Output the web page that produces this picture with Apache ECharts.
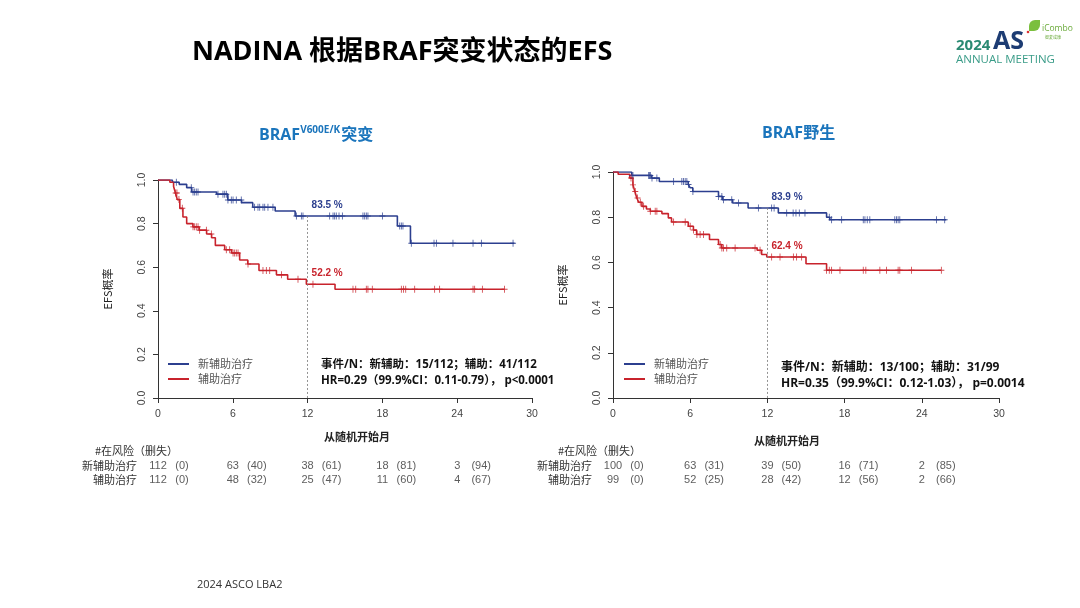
<!DOCTYPE html>
<html>
<head>
<meta charset="utf-8">
<script src="https://cdn.jsdelivr.net/npm/echarts@6/dist/echarts.min.js"></script>
<style>
html,body{margin:0;padding:0;background:#fff;}
#c{width:1080px;height:608px;}
</style>
</head>
<body>
<div id="c"></div>
<script>
// ---------- DATA ----------
const xTicks = [0, 6, 12, 18, 24, 30];
const yTicks = [0, 0.2, 0.4, 0.6, 0.8, 1.0];
const groupNames = ['新辅助治疗', '辅助治疗'];
const rowCats = ['辅助治疗', '新辅助治疗'];

// Left panel: BRAF V600E/K mutant — events [month, survival]
const leftNeoEvents = [[1.15,0.99],[1.7,0.98],[2.3,0.965],[2.7,0.945],[4.7,0.935],[5.6,0.908],[6.7,0.896],[7.6,0.875],[9.4,0.858],[11.0,0.835],[19.2,0.789],[20.25,0.71]];
const leftNeoEnd = 28.6;
const leftNeoCensor = [1.47,2.67,2.81,2.94,3.07,3.21,4.81,5.21,5.35,5.48,5.61,5.88,6.02,6.28,6.68,7.75,8.02,8.16,8.42,8.56,8.82,9.22,11.1,11.5,11.63,13.77,14.04,14.17,14.3,14.52,14.79,16.44,16.58,16.71,16.84,18.0,19.39,19.52,19.65,20.32,22.14,22.33,23.66,25.27,25.94,28.48];
const leftAdjEvents = [[0.95,0.99],[1.25,0.97],[1.4,0.94],[1.55,0.91],[1.75,0.87],[2.0,0.83],[2.3,0.80],[2.8,0.785],[3.3,0.77],[3.9,0.752],[4.3,0.735],[4.6,0.70],[5.35,0.68],[5.9,0.665],[6.55,0.633],[7.2,0.615],[8.1,0.585],[9.5,0.565],[10.4,0.545],[11.9,0.522],[14.2,0.499]];
const leftAdjEnd = 27.8;
const leftAdjCensor = [1.42,1.52,1.68,1.95,2.81,2.94,3.07,3.21,3.34,3.88,4.28,5.48,5.75,6.02,6.15,6.28,6.42,7.22,8.42,8.69,8.96,9.9,11.23,12.43,15.64,15.86,16.71,16.84,17.19,19.52,19.7,19.87,20.59,22.19,22.59,25.27,25.4,26.02,27.8];

// Right panel: BRAF wild type
const rightNeoEvents = [[1.45,0.985],[3.0,0.973],[3.6,0.958],[5.85,0.945],[6.0,0.93],[6.2,0.914],[8.2,0.892],[8.5,0.877],[9.3,0.863],[10.5,0.841],[12.85,0.819],[16.6,0.80],[16.85,0.789]];
const rightNeoEnd = 25.9;
const rightNeoCensor = [1.47,1.55,2.77,2.85,2.9,3.03,3.41,4.71,5.35,5.48,5.61,5.74,5.87,6.21,8.2,8.46,8.59,9.23,9.75,11.3,12.33,12.52,13.5,14.0,14.22,14.48,14.92,16.81,16.99,17.77,19.45,19.58,19.76,19.96,21.9,22.03,22.16,22.29,25.14,25.78];
const rightAdjEvents = [[0.4,0.99],[1.3,0.973],[1.55,0.943],[1.7,0.914],[1.85,0.885],[2.0,0.866],[2.25,0.848],[2.6,0.836],[2.9,0.826],[3.8,0.816],[4.3,0.797],[4.55,0.779],[5.85,0.76],[6.25,0.743],[6.5,0.724],[7.5,0.701],[8.2,0.679],[8.45,0.664],[11.2,0.654],[11.55,0.635],[11.95,0.624],[15.0,0.594],[16.6,0.565]];
const rightAdjEnd = 25.5;
const rightAdjCensor = [1.4,1.55,1.73,1.91,2.12,2.38,2.9,3.28,3.41,4.71,5.61,6.0,6.26,6.52,6.77,7.03,8.33,8.46,8.59,8.84,9.49,11.04,11.43,12.33,12.98,14.02,14.27,14.66,16.6,16.81,16.99,17.64,19.45,19.65,20.74,21.26,22.16,22.29,23.2,25.52];

// 12-month labels
const leftLabels12 = ['83.5 %', '52.2 %'];
const rightLabels12 = ['83.9 %', '62.4 %'];

// Numbers at risk (censored)
const riskTimes = [0, 6, 12, 18, 24];
const leftNeoRisk = [112, 63, 38, 18, 3];
const leftNeoCens = [0, 40, 61, 81, 94];
const leftAdjRisk = [112, 48, 25, 11, 4];
const leftAdjCens = [0, 32, 47, 60, 67];
const rightNeoRisk = [100, 63, 39, 16, 2];
const rightNeoCens = [0, 31, 50, 71, 85];
const rightAdjRisk = [99, 52, 28, 12, 2];
const rightAdjCens = [0, 25, 42, 56, 66];

// Stats text
const leftStats = ['事件/N：新辅助：15/112；辅助：41/112', 'HR=0.29（99.9%CI：0.11-0.79）， p<0.0001'];
const rightStats = ['事件/N：新辅助：13/100；辅助：31/99', 'HR=0.35（99.9%CI：0.12-1.03）， p=0.0014'];

// ---------- STYLE / BUILD ----------
const BLUE = '#2c3f8f';
const RED = '#c8232c';
const NUMFONT = '"Liberation Sans", Arial, sans-serif';
const CJK = '"Noto Sans CJK SC", sans-serif';
const MIX = '"Open Sans", "Noto Sans CJK SC", sans-serif';

function stepData(events, end) {
  const d = [[0, 1]];
  events.forEach(e => d.push([e[0], e[1]]));
  d.push([end, events[events.length - 1][1]]);
  return d;
}
function survAt(events, t) {
  let s = 1;
  for (const e of events) { if (e[0] <= t) s = e[1]; }
  return s;
}
function censorData(events, times) {
  return times.map(t => [t, survAt(events, t)]);
}
const plusPath = 'path://M-0.14,-1H0.14V-0.14H1V0.14H0.14V1H-0.14V0.14H-1V-0.14H-0.14Z';

function kmSeries(gi, events, end, censor, color, lab12, withLine) {
  const s12 = survAt(events, 12);
  const line = {
    type: 'line', xAxisIndex: gi, yAxisIndex: gi, step: 'end',
    data: stepData(events, end), showSymbol: false, symbol: 'none',
    lineStyle: { color: color, width: 1.6 }, z: 3, silent: true,
    markPoint: {
      symbol: 'circle', symbolSize: 0, silent: true,
      data: [{ coord: [12, s12] }],
      label: { show: true, formatter: lab12, position: [4, -11], align: 'left', verticalAlign: 'middle',
        color: color, fontSize: 10, fontWeight: 'bold', fontFamily: NUMFONT }
    }
  };
  if (withLine) {
    line.markLine = {
      silent: true, symbol: 'none', label: { show: false },
      lineStyle: { color: '#777', type: [2, 2], width: 0.8 },
      data: [[{ coord: [12, s12] }, { coord: [12, 0] }]]
    };
  }
  const cens = {
    type: 'scatter', xAxisIndex: gi, yAxisIndex: gi, data: censorData(events, censor),
    symbol: plusPath, symbolSize: [6, 7], itemStyle: { color: color, opacity: 0.85 }, z: 4, silent: true
  };
  return [line, cens];
}

function riskSeries(gi, risk, cens, cat) {
  const numData = riskTimes.map((t, i) => [t, cat, risk[i]]);
  const cData = riskTimes.map((t, i) => [t, cat, cens[i]]);
  const base = { type: 'scatter', xAxisIndex: gi, yAxisIndex: gi, symbolSize: 0, silent: true };
  return [
    Object.assign({}, base, { data: numData, label: { show: true, position: [0, 0], align: 'center', verticalAlign: 'middle',
      formatter: p => String(p.value[2]), fontSize: 11, color: '#333', fontFamily: NUMFONT } }),
    Object.assign({}, base, { data: cData, label: { show: true, position: [24, 0], align: 'center', verticalAlign: 'middle',
      formatter: p => '(' + p.value[2] + ')', fontSize: 11, color: '#333', fontFamily: NUMFONT } })
  ];
}

function kmX(gi, padding) {
  return {
    gridIndex: gi, type: 'value', min: 0, max: 30, interval: 6,
    axisLine: { show: true, onZero: false, lineStyle: { color: '#333', width: 1 } },
    axisTick: { show: true, length: 5, lineStyle: { color: '#333' } },
    axisLabel: { color: '#444', fontSize: 10.5, fontFamily: NUMFONT, margin: 11 },
    splitLine: { show: false },
    name: '从随机开始月', nameLocation: 'middle', nameGap: 33,
    nameTextStyle: { fontFamily: CJK, fontSize: 11, fontWeight: 'bold', color: '#222', padding: padding }
  };
}
function kmY(gi) {
  return {
    gridIndex: gi, type: 'value', min: 0, max: 1, interval: 0.2,
    axisLine: { show: true, lineStyle: { color: '#333', width: 1 } },
    axisTick: { show: true, length: 5, lineStyle: { color: '#333' } },
    axisLabel: { color: '#444', fontSize: 10.5, fontFamily: NUMFONT, rotate: 90, margin: 10, formatter: v => v.toFixed(1) },
    splitLine: { show: false },
    name: 'EFS概率', nameLocation: 'middle', nameGap: 45, nameRotate: 90,
    nameTextStyle: { fontFamily: CJK, fontSize: 11, color: '#222' }
  };
}
function riskX(gi) { return { gridIndex: gi, type: 'value', min: 0, max: 30, show: false }; }
function riskY(gi) {
  return { gridIndex: gi, type: 'category', data: rowCats,
    axisLine: { show: false }, axisTick: { show: false }, splitLine: { show: false },
    axisLabel: { show: true, interval: 0, hideOverlap: false, margin: 21, fontSize: 11, color: '#333', fontFamily: CJK } };
}

function legendGraphics(x, y) {
  const g = [];
  [BLUE, RED].forEach((c, i) => {
    g.push({ type: 'line', shape: { x1: x, y1: y + i * 15, x2: x + 21, y2: y + i * 15 }, style: { stroke: c, lineWidth: 2 } });
    g.push({ type: 'text', x: x + 30, y: y + i * 15, style: { text: groupNames[i], font: '11px ' + CJK, fill: '#555', verticalAlign: 'middle' } });
  });
  return g;
}
function statsGraphics(x, y, lines, size) {
  return lines.map((t, i) => ({ type: 'text', x: x, y: y + i * 16,
    style: { text: t, font: 'bold ' + size + 'px ' + MIX, fill: '#111', verticalAlign: 'middle' } }));
}

const chart = echarts.init(document.getElementById('c'), null, { renderer: 'canvas' });
const option = {
  backgroundColor: '#fff',
  animation: false,
  grid: [
    { left: 158, top: 180, width: 374, height: 218 },
    { left: 613, top: 172, width: 386, height: 226 },
    { left: 158, top: 459, width: 374, height: 28 },
    { left: 613, top: 459, width: 386, height: 28 }
  ],
  xAxis: [kmX(0, [0, 0, 0, 24]), kmX(1, [4, 38, 0, 0]), riskX(2), riskX(3)],
  yAxis: [kmY(0), kmY(1), riskY(2), riskY(3)],
  series: [].concat(
    kmSeries(0, leftNeoEvents, leftNeoEnd, leftNeoCensor, BLUE, leftLabels12[0], true),
    kmSeries(0, leftAdjEvents, leftAdjEnd, leftAdjCensor, RED, leftLabels12[1], false),
    kmSeries(1, rightNeoEvents, rightNeoEnd, rightNeoCensor, BLUE, rightLabels12[0], true),
    kmSeries(1, rightAdjEvents, rightAdjEnd, rightAdjCensor, RED, rightLabels12[1], false),
    riskSeries(2, leftNeoRisk, leftNeoCens, '新辅助治疗'),
    riskSeries(2, leftAdjRisk, leftAdjCens, '辅助治疗'),
    riskSeries(3, rightNeoRisk, rightNeoCens, '新辅助治疗'),
    riskSeries(3, rightAdjRisk, rightAdjCens, '辅助治疗')
  ),
  graphic: [].concat(
    [
      { type: 'text', x: 192, y: 52, style: { text: 'NADINA 根据BRAF突变状态的EFS', font: 'bold 27px ' + MIX, fill: '#000', verticalAlign: 'middle' } },
      { type: 'text', x: 259, y: 135, style: {
        text: '{a|BRAF}{s|V600E/K}{a|突变}', verticalAlign: 'middle',
        rich: {
          a: { fontSize: 16, fontWeight: 'bold', fontFamily: MIX, fill: '#1b75bc', lineHeight: 20 },
          s: { fontSize: 10, fontWeight: 'bold', fontFamily: MIX, fill: '#1b75bc', verticalAlign: 'top', lineHeight: 20, padding: [0, 1, 6, 0] }
        } } },
      { type: 'text', x: 762, y: 133, style: { text: 'BRAF野生', font: 'bold 16px ' + MIX, fill: '#1b75bc', verticalAlign: 'middle' } },
      { type: 'text', x: 95, y: 451, style: { text: '#在风险（删失）', font: '11px ' + CJK, fill: '#333', verticalAlign: 'middle' } },
      { type: 'text', x: 558, y: 451, style: { text: '#在风险（删失）', font: '11px ' + CJK, fill: '#333', verticalAlign: 'middle' } },
      { type: 'text', x: 197, y: 585, style: { text: '2024 ASCO LBA2', font: '11px "Open Sans", sans-serif', fill: '#333', verticalAlign: 'middle' } },
      // logo
      { type: 'text', x: 956, y: 46, style: { text: '2024', font: 'bold 15px "Open Sans", sans-serif', fill: '#2b8a72', verticalAlign: 'middle' } },
      { type: 'text', x: 993, y: 42, style: { text: 'AS', font: 'bold 25px "Open Sans", sans-serif', fill: '#1d3c73', verticalAlign: 'middle' } },
      { type: 'text', x: 956, y: 60, style: { text: 'ANNUAL MEETING', font: '11.5px "Open Sans", sans-serif', fill: '#3a9c88', verticalAlign: 'middle' } },
      { type: 'rect', shape: { x: 1029, y: 20, width: 11, height: 11, r: [6, 0, 6, 0] }, style: { fill: '#7bbf3e' } },
      { type: 'circle', shape: { cx: 1028, cy: 32, r: 1.3 }, style: { fill: '#d33' } },
      { type: 'text', x: 1042, y: 29, style: { text: 'iCombo', font: '8.5px "Open Sans", sans-serif', fill: '#6aaa3a', verticalAlign: 'middle' } },
      { type: 'text', x: 1045, y: 37, style: { text: '智麦成康', font: '4px ' + CJK, fill: '#6aaa3a', verticalAlign: 'middle' } }
    ],
    legendGraphics(168, 364),
    legendGraphics(624, 364),
    statsGraphics(321, 365, leftStats, 11.5),
    statsGraphics(781, 368, rightStats, 12)
  )
};
chart.setOption(option);
</script>
</body>
</html>
